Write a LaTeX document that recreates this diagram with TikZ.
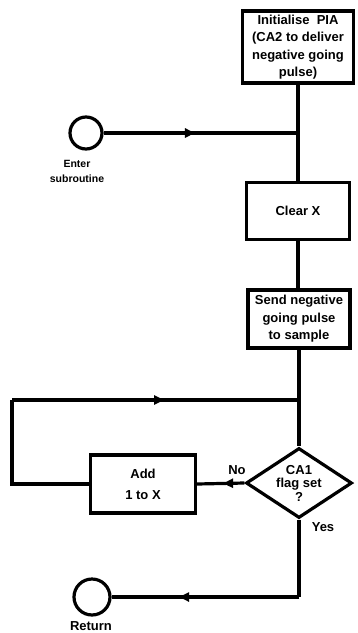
\documentclass[tikz,border=0pt]{standalone}
\usepackage{fontspec}
\setmainfont{Liberation Sans}
\usetikzlibrary{shapes.geometric,arrows.meta,decorations.markings}
\begin{document}
\begin{tikzpicture}[x=1pt,y=-1pt,
  line width=3.2pt,
  txt/.style={font=\bfseries\fontsize{13}{17.5}\selectfont},
  box/.style={draw, rectangle, align=center, txt, inner sep=1pt},
  term/.style={draw, circle, inner sep=0pt},
  decision/.style={draw, diamond, inner sep=0pt,
    minimum width=106pt, minimum height=70pt},
  lbl/.style={font=\bfseries\fontsize{13}{14}\selectfont, align=center, inner sep=0pt},
  flow/.style={postaction={decorate}, decoration={markings,
    mark=at position #1 with {\arrow{Triangle[length=10pt,width=9pt]}}}}
]
\useasboundingbox (0,0) rectangle (357,633);

% process boxes on the main column
\node[box, minimum width=111pt, minimum height=72pt] (init) at (298,47)
  {Initialise\ \ PIA\\(CA2 to deliver\\negative going\\pulse)};
\node[box, minimum width=103pt, minimum height=57pt] (clear) at (298,211) {Clear X};
\node[box, minimum width=102pt, minimum height=58pt] (send) at (299,319)
  {Send negative\\going pulse\\to sample};
\node[decision] (flag) at (299,483) {};
\node[lbl, font=\bfseries\fontsize{13}{13.5}\selectfont] (flagtxt) at (flag.center) {CA1\\flag set\\?};
\node[box, minimum width=105pt, minimum height=58pt,
  font=\bfseries\fontsize{13}{21}\selectfont] (add) at (143,484)
  {Add\\1 to X};

% terminals
\node[term, minimum size=32pt] (enter) at (86,133) {};
\node[term, minimum size=36pt] (ret) at (92,597) {};
\node[lbl, font=\bfseries\fontsize{10.5}{15}\selectfont] (enterlbl) at (77,171) {Enter\\subroutine};
\node[lbl] (retlbl) at (91,626) {Return};

% junctions and corners
\coordinate (j1) at (init.south |- enter);
\coordinate (j2) at (flag.north |- 0,400);
\coordinate (lc1) at (12,400);
\coordinate (lc2) at (12,484);
\coordinate (yc) at (flag.south |- ret);

% connectors
\draw (init.south) -- (j1) -- (clear.north);
\draw[flow=0.47] (enter.east) -- (j1);
\draw (clear.south) -- (clear.south |- send.north);
\draw (send.south) -- (j2) -- (flag.north);
\draw (add.west) -- (lc2) -- (lc1);
\draw[flow=0.53] (lc1) -- (j2);
\draw[flow=0.45] (flag.west) -- (add.east);
\draw (flag.south) -- (yc);
\draw[flow=0.64] (yc) -- (ret.east);

% branch labels
\node[lbl] (nolbl) at (237,470) {No};
\node[lbl] (yeslbl) at (323,527) {Yes};
\end{tikzpicture}
\end{document}
